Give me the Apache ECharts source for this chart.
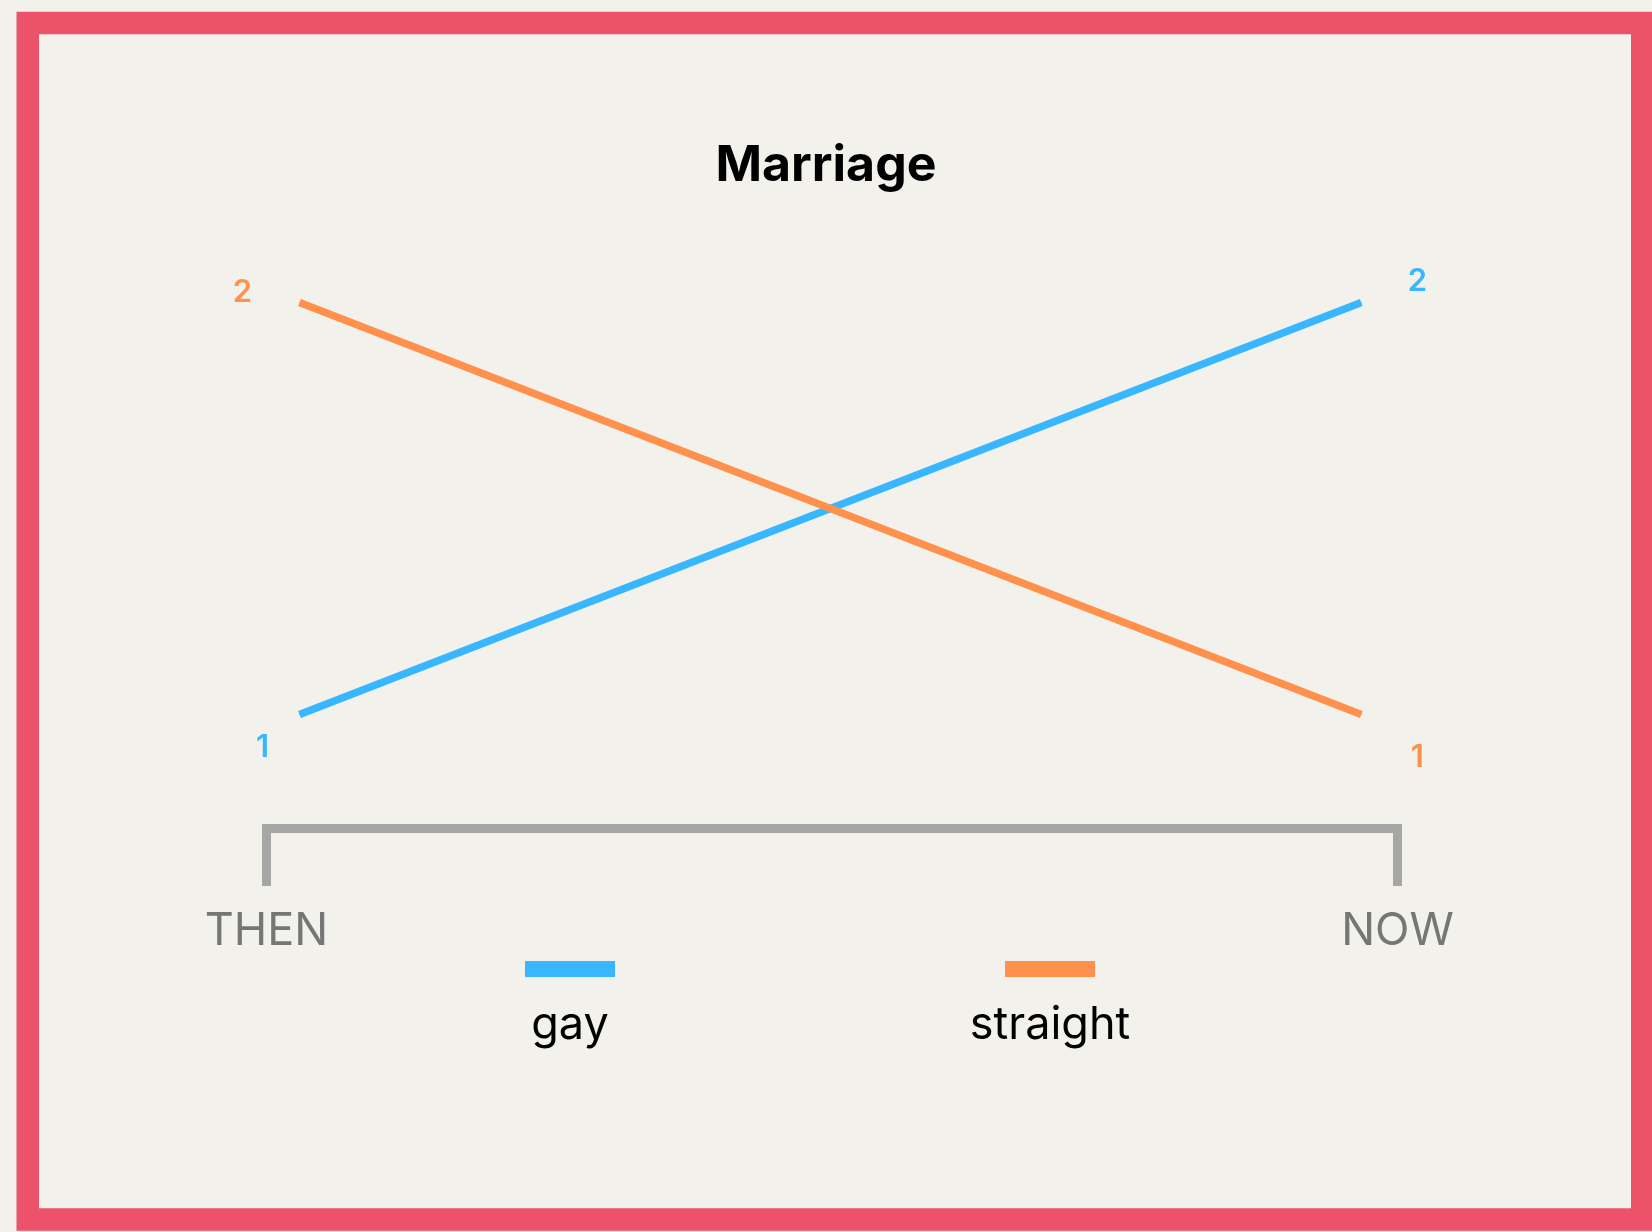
<!DOCTYPE html>
<html>
<head>
<meta charset="utf-8">
<script src="https://cdn.jsdelivr.net/npm/echarts@6/dist/echarts.min.js"></script>
<style>
html, body { margin: 0; padding: 0; background: #F2F1EB; }
#chart { width: 1652px; height: 1232px; }
</style>
</head>
<body>
<div id="chart"></div>
<script>
// ---- data ----
const chartTitle = 'Marriage';
const categories = ['THEN', 'NOW'];
const seriesNames = ['gay', 'straight'];
const gayValues = [1, 2];
const straightValues = [2, 1];
const valueMin = 1;
const valueMax = 2;

// ---- styling ----
const seriesValues = { gay: gayValues, straight: straightValues };
const COLORS = { gay: '#38B6FF', straight: '#FF914D' };
const LABEL_OFFSETS = { gay: [[-37, 33], [56, -21]], straight: [[-57, -10], [56, 43]] };
const LEGEND_CENTERS = [570, 1050];
const FONT = 'Inter, "Noto Sans", sans-serif';
const LEGEND_FONT_SIZE = 45;

function measure(text, font) {
  const c = document.createElement('canvas').getContext('2d');
  c.font = font;
  return c.measureText(text).width;
}

const chart = echarts.init(document.getElementById('chart'), null, { renderer: 'canvas' });

const legends = seriesNames.map((name, i) => {
  const w = measure(name, '400 ' + LEGEND_FONT_SIZE + 'px Inter');
  return {
    data: [{ name: name, icon: 'rect' }],
    selectedMode: false,
    padding: 0,
    itemWidth: 90,
    itemHeight: 16,
    itemGap: 0,
    itemStyle: { borderWidth: 0 },
    left: LEGEND_CENTERS[i] - Math.max(90, w) / 2,
    top: 857,
    formatter: n => '\n' + n,
    textStyle: {
      fontFamily: FONT,
      fontSize: LEGEND_FONT_SIZE,
      lineHeight: 112,
      color: '#000000',
      padding: [0, 0, 0, -(50 + w / 2)]
    }
  };
});

const option = {
  backgroundColor: '#F2F1EB',
  animation: false,
  title: {
    text: chartTitle,
    left: 'center',
    top: 141,
    padding: 0,
    textStyle: { fontFamily: FONT, fontSize: 50, fontWeight: 700, color: '#000000' }
  },
  graphic: [{
    type: 'rect',
    z: 100,
    silent: true,
    shape: { x: 27.75, y: 23, width: 1614.5, height: 1196.5 },
    style: { fill: 'none', stroke: '#EC536A', lineWidth: 22.5 }
  }],
  legend: legends,
  grid: [
    { left: 299.5, right: 290.7, top: 302.5, bottom: 517.5, show: false, containLabel: false, outerBoundsMode: 'none' },
    { left: 266.5, right: 254.5, top: 700, bottom: 403.5, show: false, containLabel: false, outerBoundsMode: 'none' }
  ],
  xAxis: [
    { gridIndex: 0, type: 'category', data: categories, boundaryGap: false, show: false },
    {
      gridIndex: 1, type: 'category', data: categories, boundaryGap: false,
      axisLine: { show: true, lineStyle: { color: '#A6A6A6', width: 9, cap: 'square' } },
      axisTick: { show: true, length: 57.5, lineStyle: { color: '#A6A6A6', width: 9 } },
      axisLabel: { margin: 80, color: '#767676', fontSize: 45, fontFamily: FONT },
      splitLine: { show: false }
    }
  ],
  yAxis: [
    { gridIndex: 0, type: 'value', min: valueMin, max: valueMax, show: false },
    { gridIndex: 1, type: 'value', show: false }
  ],
  series: seriesNames.map(name => ({
    name: name,
    type: 'line',
    xAxisIndex: 0,
    yAxisIndex: 0,
    color: COLORS[name],
    data: seriesValues[name].map((v, i) => ({ value: v, label: { offset: LABEL_OFFSETS[name][i] } })),
    lineStyle: { width: 7.5, color: COLORS[name] },
    symbol: 'circle',
    symbolSize: 1,
    showSymbol: true,
    itemStyle: { color: COLORS[name], borderWidth: 0 },
    label: {
      show: true,
      position: 'inside',
      color: COLORS[name],
      fontFamily: FONT,
      fontSize: 31,
      fontWeight: 600,
      formatter: p => String(p.value)
    },
    emphasis: { disabled: true },
    silent: true
  }))
};

chart.setOption(option);
</script>
</body>
</html>
